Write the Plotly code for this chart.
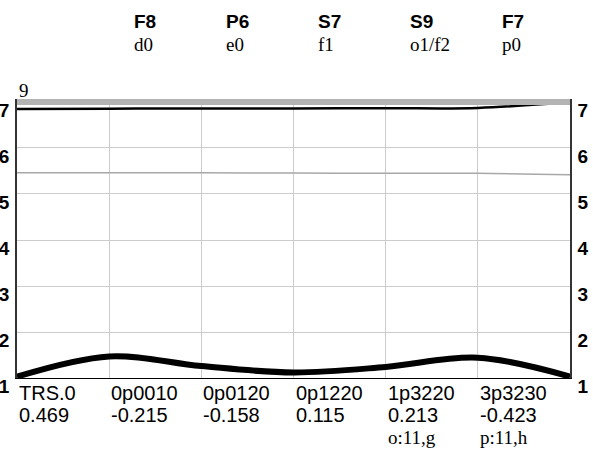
import plotly.graph_objects as go

# ---- data ----
x_pos = [0, 1, 2, 3, 4, 5, 6]
thick_black = [1.03, 1.47, 1.26, 1.12, 1.24, 1.44, 1.03]
thin_black = [6.85, 6.855, 6.86, 6.86, 6.865, 6.87, 7.0]
thin_gray = [5.46, 5.46, 5.46, 5.455, 5.45, 5.45, 5.42]
top_band = [7, 7, 7, 7, 7, 7, 7]
top_band_label = "9"

categories = ["TRS.0", "0p0010", "0p0120", "0p1220", "1p3220", "3p3230"]
cat_values = ["0.469", "-0.215", "-0.158", "0.115", "0.213", "-0.423"]
cat_notes = ["", "", "", "", "o:11,g", "p:11,h"]
top_names = ["F8", "P6", "S7", "S9", "F7"]
top_subs = ["d0", "e0", "f1", "o1/f2", "p0"]
y_ticks = [1, 2, 3, 4, 5, 6, 7]

SANS = "Liberation Sans, Arial, sans-serif"
SERIF = "Liberation Serif, Times New Roman, serif"
Y_RANGE = [1, 7.065]

fig = go.Figure()
fig.add_trace(go.Scatter(x=x_pos, y=thin_gray, mode="lines",
                         line=dict(color="#a8a8a8", width=1.5, shape="spline"),
                         cliponaxis=False, showlegend=False))
fig.add_trace(go.Scatter(x=x_pos, y=thin_black, mode="lines",
                         line=dict(color="#000000", width=2.5, shape="spline"),
                         cliponaxis=False, showlegend=False))
fig.add_trace(go.Scatter(x=x_pos, y=top_band, mode="lines",
                         line=dict(color="#b3b3b3", width=6), cliponaxis=False,
                         hoverinfo="skip", showlegend=False))
fig.add_trace(go.Scatter(x=x_pos, y=thick_black, mode="lines",
                         line=dict(color="#000000", width=6, shape="spline"),
                         cliponaxis=False, showlegend=False))
# invisible trace for the right axis
fig.add_trace(go.Scatter(x=[0], y=[1], yaxis="y2", mode="markers",
                         marker=dict(opacity=0), hoverinfo="skip", showlegend=False))

ann = []
for i, (c, v, n) in enumerate(zip(categories, cat_values, cat_notes)):
    ann.append(dict(x=i, y=-0.054, xref="x", yref="paper", text=c, showarrow=False,
                    xanchor="left", yanchor="middle", font=dict(family=SANS, size=20, color="#000")))
    ann.append(dict(x=i, y=-0.133, xref="x", yref="paper", text=v, showarrow=False,
                    xanchor="left", yanchor="middle", font=dict(family=SANS, size=20, color="#000")))
    if n:
        ann.append(dict(x=i, y=-0.215, xref="x", yref="paper", text=n, showarrow=False,
                        xanchor="left", yanchor="middle", font=dict(family=SERIF, size=19, color="#000")))
for i, (t, s) in enumerate(zip(top_names, top_subs)):
    ann.append(dict(x=i + 1.245, y=1.276, xref="x", yref="paper", text=t, showarrow=False,
                    xanchor="left", yanchor="middle",
                    font=dict(family=SANS, size=19, color="#000", weight="bold")))
    ann.append(dict(x=i + 1.245, y=1.194, xref="x", yref="paper", text=s, showarrow=False,
                    xanchor="left", yanchor="middle", font=dict(family=SERIF, size=19, color="#000")))
ann.append(dict(x=0, y=1.029, xref="x", yref="paper", text=top_band_label, showarrow=False,
                xanchor="left", yanchor="middle", font=dict(family=SERIF, size=19, color="#000")))

ytick_font = dict(family=SANS, size=19, color="#000", weight="bold")
fig.update_layout(
    width=593, height=458,
    margin=dict(l=17, r=23, t=99, b=80),
    paper_bgcolor="white", plot_bgcolor="white",
    annotations=ann,
    xaxis=dict(range=[0, 6], tickvals=[0, 1, 2, 3, 4, 5, 6], showticklabels=False,
               showgrid=True, gridcolor="#cccccc", gridwidth=1, zeroline=False,
               showline=True, linecolor="#000", linewidth=1, ticks="", automargin=False),
    yaxis=dict(range=Y_RANGE, tickvals=y_ticks, ticktext=[str(v) for v in y_ticks],
               tickfont=ytick_font, ticklabelshift=8, ticklabelstandoff=2,
               showgrid=True, gridcolor="#cccccc", gridwidth=1, zeroline=False,
               showline=True, linecolor="#333", linewidth=1.5, ticks="", automargin=False),
    yaxis2=dict(range=Y_RANGE, tickvals=y_ticks, ticktext=[str(v) for v in y_ticks],
                tickfont=ytick_font, ticklabelshift=8, ticklabelstandoff=2,
                overlaying="y", side="right", showgrid=False, zeroline=False,
                showline=True, linecolor="#333", linewidth=1.5, ticks="", automargin=False),
)
fig.write_html("out.html", config={"displayModeBar": False},
               post_script="document.body.style.margin='0';")
